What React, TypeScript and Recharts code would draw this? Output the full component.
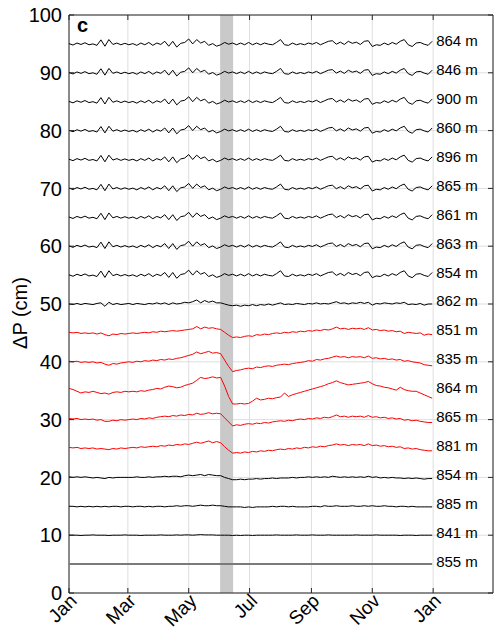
import React from 'react';
import { LineChart, Line, XAxis, YAxis, CartesianGrid, ReferenceArea, ReferenceDot } from 'recharts';

// ---- layout constants (styles, not data) ----
const W = 494;
const H = 631;
const PLOT_LEFT = 69;
const PLOT_TOP = 15;
const PLOT_RIGHT = 493;
const PLOT_BOTTOM = 593;
const FONT = '"Liberation Sans", Arial, Helvetica, sans-serif';
const FRAME = '#262626';

// ---- data ----
const days = Array.from({ length: 92 }, (_, i) => i * 4); // sampling grid: day of year
const monthTicks = [0, 59, 120, 181, 243, 304, 365];
const monthLabels = ['Jan', 'Mar', 'May', 'Jul', 'Sep', 'Nov', 'Jan'];
const yTicks = [0, 10, 20, 30, 40, 50, 60, 70, 80, 90, 100];
const xDomain = [0, 425];
const bandStart = 151.5;
const bandEnd = 164.5;

const upperOffsets = [95, 90, 85, 80, 75, 70, 65, 60, 55];
const upperDepths = ['864 m', '846 m', '900 m', '860 m', '896 m', '865 m', '861 m', '863 m', '854 m'];
// common anomaly (cm) of the upper black records
const upperNoise = [
  0.05, -0.2, 0.15, -0.1, 0.2, -0.15, 0.0, -0.25, 0.7, -0.4,
  0.75, -0.1, 0.15, -0.15, 0.1, -0.15, 0.05, -0.25, 0.15, -0.15,
  0.25, -0.25, 0.15, -0.1, 0.45, -0.4, 0.45, -0.55, 0.1, 0.25,
  0.85, 0.0, 0.75, 0.15, 0.45, -0.25, 0.05, -0.4, -0.15, 0.25,
  -0.05, 0.15, -0.15, 0.15, -0.15, 0.25,
  -0.15, 0.15, -0.15, 0.15, -0.05, -0.15, 0.25, 0.75, -0.15, -0.25,
  0.15, -0.15, 0.05, -0.15, 0.15, -0.05, 0.25, -0.15, 0.15, 0.45,
  0.55, -0.05, 0.3, -0.1, 0.45, 0.1, 0.3, -0.1, 0.45, 0.55,
  -0.45, -0.15, -0.25, 0.15, -0.15, 0.25, -0.05, 0.45, 0.75, -0.15,
  -0.45, 0.15, 0.25, -0.05, -0.25, 0.45,
];

const p862 = [
  50.0, 49.9, 50.1, 49.9, 50.1, 50.0, 49.9, 50.1, 50.2, 49.6,
  50.3, 49.9, 50.1, 49.9, 50.0, 50.1, 49.9, 50.1, 50.0, 49.9,
  50.1, 50.0, 50.2, 50.0, 50.2, 49.9, 50.2, 50.0, 50.1, 50.3,
  50.2, 50.4, 50.7, 50.2, 50.6, 50.3, 50.5, 50.2, 50.2, 50.0,
  49.8, 49.7, 49.8, 49.6, 49.8, 49.7, 49.9, 49.7, 49.9, 49.8,
  50.0, 49.8, 50.0, 50.2, 49.9, 50.0, 49.9, 50.1, 50.0, 49.9,
  50.1, 50.0, 50.2, 50.0, 50.1, 50.0, 50.2, 50.4, 50.1, 50.2,
  50.0, 50.2, 50.1, 50.3, 50.1, 50.3, 49.8, 50.1, 50.0, 50.2,
  50.1, 50.0, 50.2, 50.1, 50.3, 49.9, 50.0, 49.9, 50.1, 49.8,
  50.0, 50.0,
];
const p851 = [
  45.1, 45.0, 45.1, 44.9, 45.0, 44.9, 45.0, 44.8, 45.0, 44.7,
  44.5, 44.8, 44.7, 44.9, 44.8, 44.9, 45.0, 44.9, 45.0, 45.1,
  45.0, 45.2, 45.1, 45.3, 45.2, 45.3, 45.4, 45.3, 45.4, 45.5,
  45.6, 45.7, 46.1, 45.7, 46.0, 45.8, 45.9, 45.7, 45.6, 45.1,
  44.6, 44.2, 44.3, 44.2, 44.4, 44.5, 44.4, 44.7, 44.6, 44.8,
  44.7, 44.9, 45.0, 44.9, 45.1, 45.0, 45.2, 45.1, 45.3, 45.2,
  45.4, 45.3, 45.5, 45.4, 45.6, 45.5, 45.7, 46.0, 45.7, 45.8,
  45.6, 45.8, 45.7, 45.8, 45.6, 45.9, 45.5, 45.6, 45.4, 45.5,
  45.3, 45.4, 45.2, 45.3, 44.9, 45.1, 45.0, 44.9, 45.0, 44.6,
  44.8, 44.7,
];
const p835 = [
  40.1, 40.0, 40.1, 39.9, 40.0, 39.9, 40.0, 39.8, 39.9, 39.6,
  39.4, 39.7, 39.6, 39.8, 39.9, 40.0, 39.9, 40.1, 40.0, 40.2,
  40.1, 40.3, 40.2, 40.4, 40.3, 40.5, 40.4, 40.6, 40.7, 40.9,
  41.1, 41.3, 41.7, 41.4, 41.6, 41.8, 41.5, 41.6, 41.4, 40.3,
  39.2, 38.3, 38.5, 38.6, 38.8, 38.9, 38.8, 39.1, 39.0, 39.2,
  39.3, 39.2, 39.4, 39.5, 39.6, 39.5, 39.7, 39.8, 39.9, 40.0,
  40.2, 40.1, 40.4, 40.3, 40.5, 40.6, 40.8, 41.0, 40.8, 40.9,
  40.7, 40.9, 40.8, 40.9, 40.7, 41.0, 40.6, 40.7, 40.5, 40.6,
  40.4, 40.5, 40.3, 40.4, 40.1, 40.2, 40.0, 39.9, 39.8, 39.5,
  39.4, 39.3,
];
const p864 = [
  35.4, 35.2, 34.9, 34.6, 34.8, 34.7, 34.9, 34.7, 34.5, 34.6,
  34.4, 34.7, 34.8, 34.7, 34.9, 34.8, 34.9, 34.8, 35.0, 34.9,
  35.1, 35.2, 35.4, 35.3, 35.6, 35.8, 35.7, 35.5, 35.6, 35.9,
  36.1, 36.3, 36.8, 37.3, 37.1, 37.2, 37.4, 37.2, 37.3, 35.8,
  34.0, 32.7, 32.7, 32.8, 32.7, 32.8, 33.2, 33.7, 33.4, 33.5,
  33.7, 33.6, 33.8, 33.9, 34.6, 34.0, 34.3, 34.5, 34.7, 34.9,
  35.1, 35.3, 35.5, 35.7, 35.9, 36.2, 36.4, 36.7, 36.4, 36.2,
  36.0, 36.1, 36.2, 36.3, 36.4, 36.6, 36.2, 35.9, 35.8, 35.6,
  35.5, 35.3, 35.1, 35.6, 35.2, 35.0, 34.9, 34.9, 34.6, 34.3,
  34.0, 33.7,
];
const p865 = [
  30.2, 30.1, 30.2, 30.0, 30.1, 30.0, 30.1, 29.9, 30.0, 29.7,
  29.7, 29.9, 29.8, 30.0, 29.9, 30.0, 30.1, 30.0, 30.2, 30.1,
  30.3, 30.2, 30.4, 30.5, 30.6, 30.5, 30.7, 30.6, 30.8, 30.7,
  30.9, 30.8, 31.1, 30.9, 31.0, 31.2, 31.0, 31.1, 31.0, 30.3,
  29.6, 28.9, 29.1, 29.0, 29.2, 29.3, 29.2, 29.4, 29.3, 29.5,
  29.4, 29.6, 29.7, 29.8, 29.7, 29.9, 29.8, 30.0, 30.1, 30.0,
  30.2, 30.1, 30.3, 30.2, 30.4, 30.3, 30.5, 30.8, 30.5, 30.6,
  30.4, 30.6, 30.5, 30.6, 30.4, 30.7, 30.4, 30.5, 30.3, 30.4,
  30.2, 30.3, 30.1, 30.2, 29.9, 30.0, 29.8, 29.9, 29.7, 29.6,
  29.5, 29.5,
];
const p881 = [
  25.2, 25.1, 25.2, 25.0, 25.1, 25.0, 25.1, 24.9, 25.0, 24.9,
  24.8, 25.0, 24.9, 25.1, 25.0, 25.1, 25.2, 25.1, 25.3, 25.2,
  25.3, 25.4, 25.3, 25.5, 25.4, 25.6, 25.5, 25.7, 25.6, 25.8,
  25.7, 25.9, 26.1, 25.9, 26.1, 26.3, 26.0, 26.2, 26.0, 25.3,
  24.7, 24.2, 24.3, 24.2, 24.4, 24.3, 24.5, 24.4, 24.6, 24.5,
  24.7, 24.6, 24.8, 24.9, 24.8, 25.0, 24.9, 25.1, 25.0, 25.2,
  25.1, 25.3, 25.2, 25.4, 25.3, 25.5, 25.6, 25.8, 25.6, 25.7,
  25.5, 25.7, 25.6, 25.7, 25.5, 25.8, 25.5, 25.6, 25.4, 25.5,
  25.3, 25.4, 25.2, 25.3, 25.0, 25.1, 24.9, 25.0, 24.8, 24.7,
  24.6, 24.6,
];
const p854 = [
  20.1, 20.0, 20.1, 20.0, 20.1, 20.0, 19.9, 20.0, 19.9, 19.8,
  20.0, 19.9, 20.0, 20.0, 20.0, 20.0, 20.0, 20.1, 20.0, 20.0,
  20.1, 20.0, 20.1, 20.1, 20.2, 20.1, 20.2, 20.2, 20.1, 20.3,
  20.4, 20.3, 20.4, 20.5, 20.3, 20.5, 20.4, 20.3, 20.3, 20.0,
  19.8, 19.6, 19.6, 19.7, 19.6, 19.7, 19.7, 19.8, 19.7, 19.8,
  19.8, 19.9, 19.8, 19.9, 19.9, 19.9, 20.0, 19.9, 20.0, 20.0,
  20.1, 20.0, 20.1, 20.0, 20.1, 20.0, 20.2, 20.1, 20.0, 20.1,
  20.0, 20.1, 20.0, 20.1, 20.0, 20.2, 20.0, 20.1, 19.9, 20.0,
  19.9, 20.0, 19.9, 19.9, 19.8, 19.9, 19.8, 19.9, 19.8, 19.7,
  19.8, 19.8,
];
const p885 = [
  15.0, 15.0, 14.9, 15.0, 14.9, 15.0, 14.9, 15.0, 14.9, 15.0,
  14.9, 15.0, 15.0, 14.9, 15.0, 15.0, 14.9, 15.0, 15.0, 14.9,
  15.0, 14.9, 15.0, 15.0, 14.9, 15.0, 15.0, 15.1, 15.0, 15.1,
  15.1, 15.0, 15.1, 15.2, 15.1, 15.1, 15.2, 15.1, 15.1, 15.0,
  14.9, 14.9, 14.9, 14.9, 14.8, 14.9, 14.8, 14.9, 14.9, 14.9,
  14.9, 15.0, 14.9, 15.0, 15.0, 14.9, 15.0, 14.9, 14.9, 14.9,
  14.9, 15.0, 15.0, 14.9, 15.1, 15.0, 15.0, 15.1, 15.0, 15.0,
  15.0, 15.1, 15.0, 15.0, 15.1, 15.0, 15.1, 15.0, 15.0, 15.1,
  15.0, 15.0, 14.9, 15.0, 15.0, 14.9, 15.0, 14.9, 14.9, 14.9,
  14.9, 14.9,
];
const p841 = [
  10.0, 10.0, 10.0, 9.95, 10.0, 10.0, 10.05, 10.0, 10.0, 10.0,
  9.95, 10.0, 10.0, 10.0, 10.05, 10.0, 10.0, 10.0, 9.95, 10.0,
  10.0, 10.0, 10.0, 10.05, 10.0, 10.0, 10.0, 10.05, 10.0, 10.05,
  10.05, 10.0, 10.05, 10.1, 10.05, 10.05, 10.05, 10.0, 10.0, 10.0,
  10.0, 9.95, 10.0, 9.95, 10.0, 10.0, 9.95, 10.0, 10.0, 10.0,
  10.0, 10.0, 10.05, 10.0, 10.0, 10.0, 10.0, 10.05, 10.0, 10.0,
  10.0, 10.05, 10.0, 10.0, 10.0, 10.05, 10.0, 10.0, 10.0, 10.0,
  10.0, 10.0, 10.05, 10.0, 10.0, 10.0, 10.0, 10.05, 10.0, 10.0,
  10.0, 10.0, 10.0, 9.95, 10.0, 10.0, 10.0, 9.95, 10.0, 10.0,
  10.0, 10.0,
];
const flatDays = [0, 364];
const p855 = [5, 5];

type Series = { key: string; depth: string; offset: number; color: string; width: number; days: number[]; values: number[] };

const series: Series[] = [
  ...upperOffsets.map((off, k) => ({
    key: 'u' + k,
    depth: upperDepths[k],
    offset: off,
    color: '#000000',
    width: 1,
    days,
    values: upperNoise.map((v) => off + v),
  })),
  { key: 'p862', depth: '862 m', offset: 50, color: '#000000', width: 1, days, values: p862 },
  { key: 'p851', depth: '851 m', offset: 45, color: '#ff0000', width: 1, days, values: p851 },
  { key: 'p835', depth: '835 m', offset: 40, color: '#ff0000', width: 1, days, values: p835 },
  { key: 'p864', depth: '864 m', offset: 35, color: '#ff0000', width: 1, days, values: p864 },
  { key: 'p865', depth: '865 m', offset: 30, color: '#ff0000', width: 1, days, values: p865 },
  { key: 'p881', depth: '881 m', offset: 25, color: '#ff0000', width: 1, days, values: p881 },
  { key: 'p854', depth: '854 m', offset: 20, color: '#000000', width: 1, days, values: p854 },
  { key: 'p885', depth: '885 m', offset: 15, color: '#000000', width: 1, days, values: p885 },
  { key: 'p841', depth: '841 m', offset: 10, color: '#000000', width: 1, days, values: p841 },
  { key: 'p855', depth: '855 m', offset: 5, color: '#7a7a7a', width: 2, days: flatDays, values: p855 },
];

const XTick = (props: any) => {
  const { x, index } = props;
  const label = monthLabels[index] ?? '';
  const ax = x + 9;
  const ay = PLOT_BOTTOM + 9;
  return (
    <g>
      <line x1={x} y1={PLOT_BOTTOM} x2={x} y2={PLOT_BOTTOM - 5} stroke={FRAME} strokeWidth={1} />
      <line x1={x} y1={PLOT_TOP} x2={x} y2={PLOT_TOP + 5} stroke={FRAME} strokeWidth={1} />
      <text
        x={ax}
        y={ay}
        transform={`rotate(-45 ${ax} ${ay})`}
        textAnchor="end"
        fontSize={19}
        fontFamily={FONT}
        fill="#000"
      >
        {label}
      </text>
    </g>
  );
};

const YTick = (props: any) => {
  const { y, payload } = props;
  return (
    <g>
      <line x1={PLOT_LEFT} y1={y} x2={PLOT_LEFT + 5} y2={y} stroke={FRAME} strokeWidth={1} />
      <line x1={PLOT_RIGHT} y1={y} x2={PLOT_RIGHT - 5} y2={y} stroke={FRAME} strokeWidth={1} />
      <text x={PLOT_LEFT - 7} y={y} dy="0.36em" textAnchor="end" fontSize={20} fontFamily={FONT} fill="#000">
        {payload.value}
      </text>
    </g>
  );
};

const renderAxisTitle = () => (
  <g>
    <text
      x={27}
      y={313}
      transform="rotate(-90 27 313)"
      textAnchor="middle"
      fontSize={20}
      fontFamily={FONT}
      fill="#000"
    >
      ΔP (cm)
    </text>
    <text x={77} y={32} fontSize={20} fontWeight="bold" fontFamily={FONT} fill="#000">
      c
    </text>
  </g>
);

const makeDepthLabel = (text: string) => (p: any) => {
  const vb = p.viewBox || {};
  const cx = (vb.x ?? 0) + (vb.width ?? 0) / 2;
  const cy = (vb.y ?? 0) + (vb.height ?? 0) / 2;
  return (
    <text x={cx + 3} y={cy - 3} dy="0.36em" textAnchor="start" fontSize={15} fontFamily={FONT} fill="#000">
      {text}
    </text>
  );
};

export default function App() {
  return (
    <div style={{ position: 'absolute', left: 0, top: 0, width: W, height: H, background: '#fff' }}>
      <LineChart
        width={W}
        height={H}
        margin={{ top: PLOT_TOP, right: W - PLOT_RIGHT, bottom: 0, left: 0 }}
      >
        <CartesianGrid stroke="#dedede" strokeWidth={1} />
        <XAxis
          dataKey="day"
          type="number"
          domain={xDomain}
          ticks={monthTicks}
          allowDataOverflow
          interval={0}
          height={H - PLOT_BOTTOM}
          axisLine={false}
          tickLine={false}
          tick={<XTick />}
        />
        <YAxis
          type="number"
          domain={[0, 100]}
          ticks={yTicks}
          interval={0}
          width={PLOT_LEFT}
          axisLine={false}
          tickLine={false}
          tick={<YTick />}
          label={renderAxisTitle}
        />
        <ReferenceArea x1={bandStart} x2={bandEnd} y1={0} y2={100} fill="#c9c9c9" fillOpacity={1} stroke="none" />
        {series.map((s) => (
          <Line
            key={s.key}
            data={s.days.map((d, i) => ({ day: d, value: s.values[i] }))}
            dataKey="value"
            type="linear"
            stroke={s.color}
            strokeWidth={s.width}
            dot={false}
            activeDot={false}
            isAnimationActive={false}
          />
        ))}
        {series.map((s) => (
          <ReferenceDot
            key={'lbl' + s.key}
            x={365}
            y={s.offset}
            r={0}
            fill="none"
            stroke="none"
            label={makeDepthLabel(s.depth)}
          />
        ))}
        <ReferenceArea x1={0} x2={425} y1={0} y2={100} fill="none" fillOpacity={0} stroke={FRAME} strokeWidth={1} />
      </LineChart>
    </div>
  );
}
